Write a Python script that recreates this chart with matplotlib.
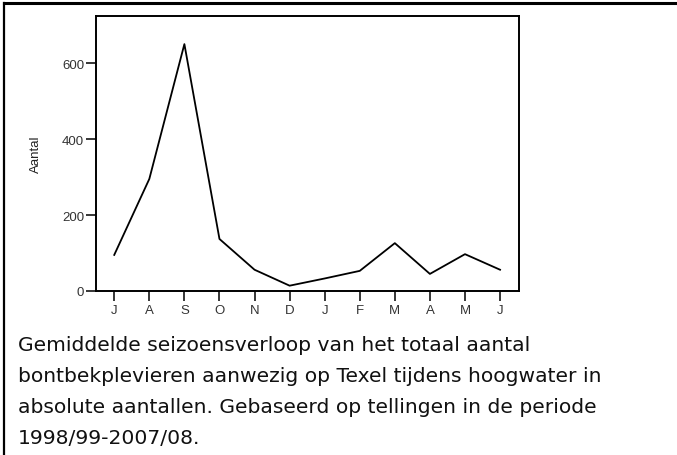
import numpy as np
import matplotlib
matplotlib.use("Agg")
import matplotlib.pyplot as plt
from matplotlib.lines import Line2D

# gemiddeld aantal bontbekplevieren per maand (juli t/m juni)
maanden = ["J", "A", "S", "O", "N", "D", "J", "F", "M", "A", "M", "J"]
aantal = [95, 295, 650, 137, 56, 14, 33, 53, 126, 45, 97, 56]
yticks = [0, 200, 400, 600]

bijschrift = ("Gemiddelde seizoensverloop van het totaal aantal\n"
              "bontbekplevieren aanwezig op Texel tijdens hoogwater in\n"
              "absolute aantallen. Gebaseerd op tellingen in de periode\n"
              "1998/99-2007/08.")

fig = plt.figure(figsize=(6.77, 4.56), dpi=100)
W, H = 677, 456

ax = fig.add_axes([96 / W, 1 - 292 / H, (519 - 96) / W, (292 - 17) / H])
x = np.arange(len(maanden))
ax.plot(x, aantal, color="black", lw=1.3)
ax.set_xlim(-0.52, 11.54)
ax.set_ylim(0, 724)
ax.set_xticks(x)
ax.set_xticklabels(maanden)
ax.set_yticks(yticks)
for s in ax.spines.values():
    s.set_linewidth(1.4)
ax.tick_params(direction="out", length=7.5, width=1.1,
               labelsize=9.5, labelcolor="#333333")
ax.tick_params(axis="y", pad=1)
ax.tick_params(axis="x", pad=1.5)
for lab in ax.get_xticklabels() + ax.get_yticklabels():
    lab.set_family("Liberation Sans")
ax.set_ylabel("Aantal", fontsize=9.5, family="Liberation Sans", color="#222222")
ax.yaxis.set_label_coords(-0.128, 0.5)

# kader om figuur en bijschrift
fig.add_artist(Line2D([4 / W, 1], [1 - 4 / H, 1 - 4 / H], color="black", lw=2.2,
                      transform=fig.transFigure))
fig.add_artist(Line2D([4 / W, 4 / W], [0, 1 - 4 / H], color="black", lw=1.6,
                      transform=fig.transFigure))

fig.text(18 / W, 1 - 336 / H, bijschrift, fontsize=14.6, family="DejaVu Sans",
         va="top", ha="left", linespacing=1.8, color="#111111")

fig.savefig("out.png", dpi=100)
